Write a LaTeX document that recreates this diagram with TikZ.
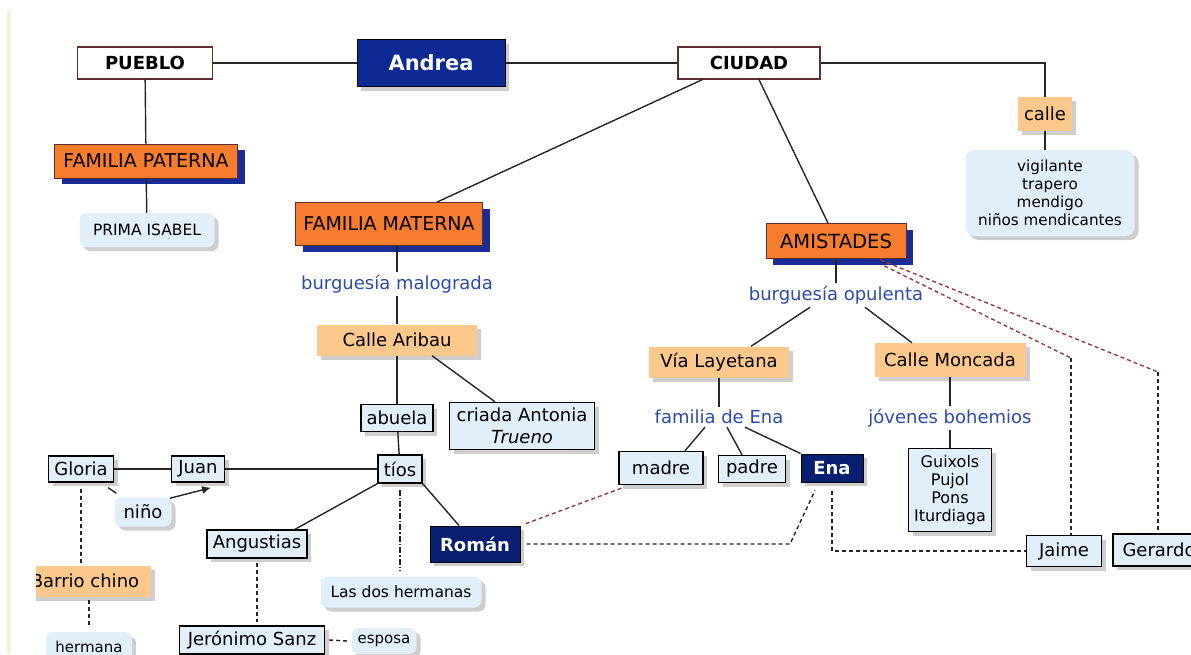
\documentclass[tikz,border=0pt]{standalone}
\usepackage{fontspec}
\setmainfont{DejaVu Sans}
\usetikzlibrary{arrows.meta,shadows}
\definecolor{naranja}{RGB}{245,125,45}
\definecolor{melon}{RGB}{252,200,140}
\definecolor{celeste}{RGB}{226,238,248}
\definecolor{marino}{RGB}{12,42,145}
\definecolor{marinob}{RGB}{8,30,112}
\definecolor{sombraazul}{RGB}{25,45,150}
\definecolor{textoazul}{RGB}{45,75,170}
\definecolor{granate}{RGB}{95,45,45}
\definecolor{rojizo}{RGB}{150,60,60}
\definecolor{franja}{RGB}{244,240,218}
\tikzset{
  base/.style={inner sep=0pt, font=\fontsize{18}{21}\selectfont, text=black},
  sombra/.style={drop shadow={shadow xshift=4pt, shadow yshift=-4pt, fill=black!35, opacity=.55}},
  sombraaz/.style={drop shadow={shadow xshift=7pt, shadow yshift=-6pt, fill=sombraazul, opacity=1}},
  blanca/.style={base, draw=granate, line width=1.2pt, fill=white, font=\bfseries\fontsize{18}{21}\selectfont},
  naranjabox/.style={base, draw=granate, line width=.8pt, fill=naranja, sombraaz, font=\fontsize{19}{22}\selectfont},
  melonbox/.style={base, fill=melon, sombra},
  caja/.style={base, draw=black, line width=1.4pt, fill=celeste, sombra},
  burbuja/.style={base, fill=celeste, rounded corners=7pt, sombra},
  oscura/.style={base, draw=black, line width=1pt, fill=marinob, text=white, sombra, font=\bfseries\fontsize{18}{21}\selectfont},
  enlace/.style={base, inner sep=3pt, text=textoazul},
  linea/.style={draw=black!85, line width=1.4pt},
  guion/.style={linea, dash pattern=on 4pt off 3pt},
  guionrojo/.style={draw=rojizo, line width=1.4pt, dash pattern=on 4pt off 3pt},
  punteada/.style={linea, dash pattern=on 6pt off 2pt on 1.5pt off 2pt}
}
\begin{document}
\begin{tikzpicture}[x=1pt, y=-1pt]
  \useasboundingbox (0,0) rectangle (1191,654);
  \fill[franja] (7,10) rectangle (11,654);

  \node[blanca, minimum width=135pt, minimum height=32pt] (pueblo) at (145,63) {PUEBLO};
  \node[base, draw=black, line width=1pt, fill=marino, text=white, sombra, font=\bfseries\fontsize{21}{24}\selectfont,
        minimum width=148pt, minimum height=47pt] (andrea) at (431,63) {Andrea};
  \node[blanca, minimum width=142pt, minimum height=32pt] (ciudad) at (749,63) {CIUDAD};
  \node[melonbox, minimum width=54pt, minimum height=34pt] (calle) at (1045,114) {calle};
  \node[burbuja, rounded corners=9pt, minimum width=169pt, minimum height=86pt, align=center,
        font=\fontsize{15.2}{18}\selectfont] (oficios) at (1050,193)
        {vigilante\\trapero\\mendigo\\niños mendicantes};

  \node[naranjabox, minimum width=183pt, minimum height=34pt] (fpaterna) at (146,161) {FAMILIA PATERNA};
  \node[burbuja, minimum width=135pt, minimum height=34pt, font=\fontsize{15.5}{18}\selectfont] (prima) at (147,230) {PRIMA ISABEL};

  \node[naranjabox, minimum width=187pt, minimum height=43pt] (fmaterna) at (389,224) {FAMILIA MATERNA};
  \node[enlace] (malograda) at (397,284) {burguesía malograda};
  \node[melonbox, minimum width=160pt, minimum height=31pt] (aribau) at (397,340) {Calle Aribau};
  \node[caja, minimum width=72pt, minimum height=27pt] (abuela) at (397,418) {abuela};
  \node[caja, minimum width=145pt, minimum height=47pt, align=center, font=\fontsize{18}{22}\selectfont] (criada) at (522,426)
        {criada Antonia\\\textit{Trueno}};
  \node[caja, minimum width=44pt, minimum height=28pt] (tios) at (400,469) {tíos};
  \node[caja, minimum width=65pt, minimum height=26pt] (gloria) at (81,469) {Gloria};
  \node[caja, minimum width=53pt, minimum height=26pt] (juan) at (198,469) {Juan};
  \node[burbuja, minimum width=57pt, minimum height=29pt] (nino) at (143,512) {niño};
  \node[caja, minimum width=100pt, minimum height=28pt] (angustias) at (257,544) {Angustias};
  \node[oscura, minimum width=90pt, minimum height=36pt] (roman) at (475,544) {Román};
  \node[burbuja, minimum width=161pt, minimum height=31pt, font=\fontsize{15.5}{18}\selectfont] (hermanas) at (401,592) {Las dos hermanas};
  \begin{scope}
    \clip (36,550) rectangle (200,615);
    \node[melonbox, minimum width=132pt, minimum height=31pt] (barrio) at (85,581) {Barrio chino};
  \end{scope}
  \node[burbuja, minimum width=86pt, minimum height=30pt, font=\fontsize{15}{18}\selectfont] (hermana) at (89,647) {hermana};
  \node[caja, minimum width=145pt, minimum height=28pt] (jeronimo) at (252,640) {Jerónimo Sanz};
  \node[burbuja, minimum width=65pt, minimum height=26pt, font=\fontsize{15}{18}\selectfont] (esposa) at (384,641) {esposa};

  \node[naranjabox, minimum width=140pt, minimum height=35pt, font=\fontsize{19.5}{22}\selectfont] (amistades) at (836,241) {AMISTADES};
  \node[enlace] (opulenta) at (836,295) {burguesía opulenta};
  \node[melonbox, minimum width=140pt, minimum height=31pt] (layetana) at (719,362) {Vía Layetana};
  \node[melonbox, minimum width=151pt, minimum height=34pt] (moncada) at (950,360) {Calle Moncada};
  \node[enlace] (fena) at (719,417) {familia de Ena};
  \node[enlace] (bohemios) at (950,418) {jóvenes bohemios};
  \node[caja, minimum width=84pt, minimum height=33pt] (madre) at (661,468) {madre};
  \node[caja, minimum width=67pt, minimum height=27pt] (padre) at (752,469) {padre};
  \node[oscura, minimum width=62pt, minimum height=28pt] (ena) at (832,468) {Ena};
  \node[caja, minimum width=83pt, minimum height=83pt, align=center, font=\fontsize{16}{18}\selectfont] (guixols) at (950,490)
        {Guixols\\Pujol\\Pons\\Iturdiaga};
  \node[caja, minimum width=75pt, minimum height=31pt] (jaime) at (1064,551) {Jaime};
  \node[caja, minimum width=92pt, minimum height=32pt] (gerardo) at (1159,550) {Gerardo};

  \draw[linea] (pueblo) -- (andrea);
  \draw[linea] (andrea) -- (ciudad);
  \draw[linea] (ciudad) -| (calle);
  \draw[linea] (calle.south) -- (calle.south |- oficios.north);
  \draw[linea] (pueblo) -- (fpaterna);
  \draw[linea] (fpaterna) -- (prima);
  \draw[linea] ([xshift=25pt]ciudad.south west) -- ([xshift=48pt]fmaterna.north);
  \draw[linea] ([xshift=10pt]ciudad.south) -- ([xshift=-8pt]amistades.north);

  \draw[linea] (fmaterna.south -| malograda) -- (malograda);
  \draw[linea] (malograda) -- (aribau);
  \draw[linea] (aribau) -- (abuela);
  \draw[linea] ([xshift=35pt]aribau.south) -- ([xshift=-27pt]criada.north);
  \draw[linea] (abuela) -- (tios);
  \draw[linea] (gloria) -- (juan);
  \draw[linea] (juan) -- (tios);
  \draw[linea] ([xshift=-6pt,yshift=-5pt]gloria.south east) -- ([xshift=2pt,yshift=4pt]nino.north west);
  \draw[linea, -{Latex[length=9pt,width=8pt]}] ([xshift=-2pt,yshift=-1pt]nino.north east) -- ([xshift=13pt,yshift=-5pt]juan.south);
  \draw[linea] (tios.south west) -- ([xshift=38pt]angustias.north);
  \draw[linea] (tios.south east) -- ([xshift=-16pt]roman.north);
  \draw[punteada] ([yshift=-6pt]tios.south) -- ([yshift=5pt]tios.south |- hermanas.north);
  \draw[guion] ([yshift=-6pt]gloria.south) -- ([yshift=2pt]gloria.south |- barrio.north);
  \draw[guion] ([yshift=-3pt]hermana.north |- barrio.south) -- ([yshift=5pt]hermana.north);
  \draw[guion] ([yshift=-4pt]angustias.south) -- ([yshift=3pt]angustias.south |- jeronimo.north);
  \draw[guion] ([xshift=4pt]jeronimo.east) -- ([xshift=-4pt]esposa.west);

  \draw[linea] (amistades) -- (opulenta);
  \draw[linea] ([xshift=-26pt]opulenta.south) -- ([xshift=32pt]layetana.north);
  \draw[linea] ([xshift=29pt]opulenta.south) -- ([xshift=-38pt]moncada.north);
  \draw[linea] (layetana) -- (fena);
  \draw[linea] (moncada) -- (bohemios);
  \draw[linea] ([xshift=-14pt]fena.south) -- ([xshift=24pt]madre.north);
  \draw[linea] ([xshift=8pt]fena.south) -- ([xshift=-10pt]padre.north);
  \draw[linea] ([xshift=26pt]fena.south) -- (ena.north west);
  \draw[linea] (bohemios) -- (guixols);

  \coordinate (codo) at (790,544);
  \draw[guion] ([xshift=6pt]roman.east) -- (codo) -- ([xshift=-17pt,yshift=-8pt]ena.south);
  \draw[guion] ([yshift=-8pt]ena.south) |- (jaime.west);
  \draw[guionrojo] ([xshift=3pt,yshift=-3pt]madre.south west) -- ([xshift=3pt,yshift=1pt]roman.north east);

  \coordinate (codojaime) at (1071,358);
  \coordinate (codogerardo) at (1158,372);
  \draw[guionrojo] ([xshift=-22pt,yshift=-7pt]amistades.south east) -- (codojaime);
  \draw[guion] (codojaime) -- (codojaime |- jaime.north);
  \draw[guionrojo] ([xshift=-26pt,yshift=-1pt]amistades.south east) -- (codogerardo);
  \draw[guion] (codogerardo) -- (codogerardo |- gerardo.north);
\end{tikzpicture}
\end{document}
